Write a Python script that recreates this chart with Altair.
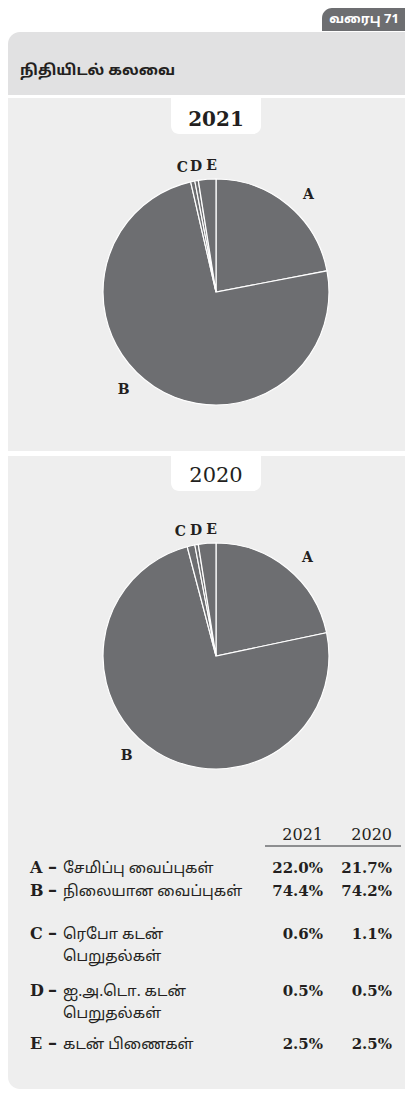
import altair as alt
import pandas as pd

# ---------------- data ----------------
categories = ["A", "B", "C", "D", "E"]
labels_ta = [
    "சேமிப்பு வைப்புகள்",
    "நிலையான வைப்புகள்",
    "ரெபோ கடன்\nபெறுதல்கள்",
    "ஐ.அ.டொ. கடன்\nபெறுதல்கள்",
    "கடன் பிணைகள்",
]
share_2021 = [22.0, 74.4, 0.6, 0.5, 2.5]
share_2020 = [21.7, 74.2, 1.1, 0.5, 2.5]
years = ["2021", "2020"]
title_text = "நிதியிடல் கலவை"
tab_text = "வரைபு 71"

# ---------------- style / layout ----------------
W, H = 397, 1081
GREY = "#6d6e71"
INK = "#231f20"
PANEL = "#eeeeee"
HEAD = "#e1e1e2"
SERIF = "DejaVu Serif"
TAMIL = "Noto Sans Tamil, Noto Serif Tamil, Lohit Tamil, Samyak Tamil, FreeSans, Noto Sans"
ROW_BASELINES = [865, 888, 931, 988, 1041]
COL_RIGHT = [315, 384]
LABEL_NUDGE = {"A": (7, 6), "B": (-19, -14), "C": (-6, 7), "D": (3, 7), "E": (6, 8)}

one = pd.DataFrame({"k": [0]})


def box(x, x2, y, y2, color, **corners):
    return alt.Chart(one).mark_rect(color=color, **corners).encode(
        x=alt.value(x), x2=alt.value(x2), y=alt.value(y), y2=alt.value(y2)
    )


def pie(shares, cx, cy):
    df = pd.DataFrame({"cat": categories, "idx": list(range(len(categories))), "share": shares})
    base = alt.Chart(df)
    theta_scale = alt.Scale(domain=[0, 100])
    arcs = base.mark_arc(radius=113, stroke="white", strokeWidth=1.2, color=GREY).encode(
        theta=alt.Theta("share:Q", stack=True, scale=theta_scale),
        order=alt.Order("idx:Q"),
        detail="cat:N",
        x=alt.value(cx),
        y=alt.value(cy),
    )
    lab = base.transform_window(
        cum="sum(share)", sort=[alt.SortField("idx")], frame=[None, 0]
    ).transform_calculate(mid="datum.cum - datum.share / 2")
    out = [arcs]
    for cat in categories:
        dx, dy = LABEL_NUDGE[cat]
        out.append(
            lab.transform_filter(alt.datum.cat == cat)
            .mark_text(radius=134, dx=dx, dy=dy, font=SERIF, fontWeight="bold",
                       fontSize=14, color=INK)
            .encode(
                theta=alt.Theta("mid:Q", stack=None, scale=theta_scale),
                text="cat:N",
                x=alt.value(cx),
                y=alt.value(cy),
            )
        )
    return out


layers = []
# backgrounds
layers.append(box(314, W, 0, 23, GREY, cornerRadiusTopLeft=10))
layers.append(box(0, W, 24, 87, HEAD, cornerRadiusTopLeft=12))
layers.append(box(0, W, 90, 443, PANEL))
layers.append(box(163, 253, 90, 126, "white", cornerRadiusBottomLeft=8, cornerRadiusBottomRight=8))
layers.append(box(0, W, 448, H, PANEL, cornerRadiusBottomLeft=12))
layers.append(box(163, 253, 448, 483, "white", cornerRadiusBottomLeft=8, cornerRadiusBottomRight=8))

# tab and title
layers.append(
    alt.Chart(pd.DataFrame({"t": [tab_text]})).mark_text(
        font=TAMIL, fontWeight="bold", fontSize=13, color="white", align="center", baseline="middle"
    ).encode(text="t:N", x=alt.value(356), y=alt.value(11))
)
layers.append(
    alt.Chart(pd.DataFrame({"t": [title_text]})).mark_text(
        font=TAMIL, fontWeight="bold", fontSize=15, color=INK, align="left", baseline="middle"
    ).encode(text="t:N", x=alt.value(12), y=alt.value(62))
)

# year tabs
layers.append(
    alt.Chart(pd.DataFrame({"y": [years[0]]})).mark_text(
        font=SERIF, fontWeight="bold", fontSize=20, color=INK, baseline="middle"
    ).encode(text="y:N", x=alt.value(208), y=alt.value(112))
)
layers.append(
    alt.Chart(pd.DataFrame({"y": [years[1]]})).mark_text(
        font=SERIF, fontWeight="normal", fontSize=21, color=INK, baseline="middle"
    ).encode(text="y:N", x=alt.value(208), y=alt.value(468))
)

# pies
layers += pie(share_2021, 208, 284)
layers += pie(share_2020, 208, 648)

# table
Y = alt.Y("row:Q", scale=alt.Scale(domain=[0, 1, 2, 3, 4], range=ROW_BASELINES,
                                    nice=False, zero=False), axis=None)
X = alt.X("col:Q", scale=alt.Scale(domain=[0, 1], range=COL_RIGHT, nice=False, zero=False),
          axis=None)

rows = pd.DataFrame({"cat": categories, "row": list(range(5)), "label": labels_ta})
vals = pd.DataFrame({
    "row": list(range(5)) * 2,
    "col": [0] * 5 + [1] * 5,
    "txt": [f"{v:.1f}%" for v in share_2021] + [f"{v:.1f}%" for v in share_2020],
})
heads = pd.DataFrame({"col": [0, 1], "year": years})

layers.append(
    alt.Chart(heads).mark_text(font=SERIF, fontSize=16, color=INK, align="right",
                               baseline="alphabetic")
    .encode(x=X, y=alt.value(832), text="year:N")
)
layers.append(
    alt.Chart(one).mark_rule(color=GREY, strokeWidth=1.5).encode(
        x=alt.value(257), x2=alt.value(393), y=alt.value(838))
)
layers.append(
    alt.Chart(rows).mark_text(font=SERIF, fontWeight="bold", fontSize=16, color=INK,
                              align="left", baseline="alphabetic")
    .encode(x=alt.value(22), y=Y, text="cat:N")
)
layers.append(
    alt.Chart(rows).mark_text(font=SERIF, fontWeight="bold", fontSize=18, color=INK,
                              align="left", baseline="alphabetic")
    .encode(x=alt.value(40), y=Y, text=alt.value("–"))
)
layers.append(
    alt.Chart(rows).mark_text(font=TAMIL, fontSize=15, color=INK, align="left",
                              baseline="alphabetic", lineBreak="\n", lineHeight=22)
    .encode(x=alt.value(55), y=Y, text="label:N")
)
layers.append(
    alt.Chart(vals).mark_text(font=SERIF, fontWeight="bold", fontSize=15, color=INK,
                              align="right", baseline="alphabetic")
    .encode(x=X, y=Y, text="txt:N")
)

chart = alt.layer(*layers).properties(
    width=W, height=H, autosize="none", padding=0, background="white"
).configure_view(stroke=None)

chart.save("out.html", embed_options={"renderer": "svg", "actions": False})
